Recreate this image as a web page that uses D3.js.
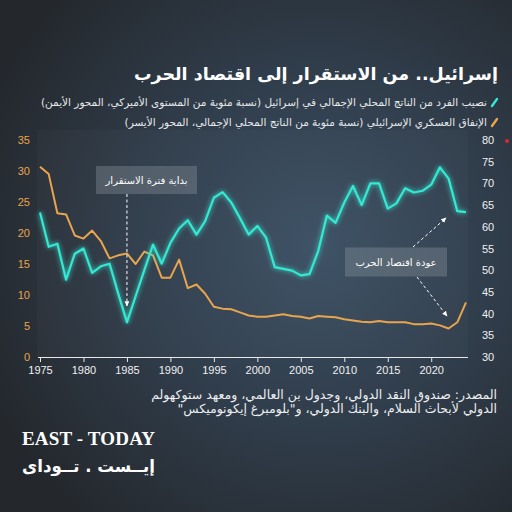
<!DOCTYPE html>
<html>
<head>
<meta charset="utf-8">
<script src="https://d3js.org/d3.v7.min.js"></script>
<style>
  html, body { margin: 0; padding: 0; background: #262b31; }
  svg { display: block; }
  .ar { font-family: "DejaVu Sans", "Noto Sans", sans-serif; }
  .tick text { font-family: "Liberation Sans", Arial, sans-serif; font-size: 11px; }
</style>
</head>
<body>
<svg id="chart" width="512" height="512"></svg>
<script>
// years on the x axis
const years = d3.range(1975, 2025);
// GDP per capita, % of US level (right axis)
const gdpShare = [63.3, 55.4, 56.1, 47.8, 53.8, 55.0, 49.4, 50.9, 51.5, 44.6,
                  38.0, 44.0, 50.0, 55.9, 51.5, 56.3, 59.6, 61.5, 58.2, 61.3,
                  66.7, 68.0, 65.6, 62.0, 58.2, 60.2, 57.5, 50.7, 50.3, 49.9,
                  48.8, 49.1, 54.4, 62.6, 60.9, 65.6, 69.4, 65.0, 70.0, 70.0,
                  64.2, 65.4, 68.9, 67.9, 68.3, 69.7, 73.7, 71.1, 63.6, 63.4];
// military spending, % of GDP (left axis)
const military = [30.7, 29.5, 23.2, 23.0, 19.6, 19.1, 20.4, 18.7, 15.9, 16.4,
                  16.7, 15.0, 17.0, 16.4, 12.8, 12.8, 15.7, 11.1, 11.7, 10.2,
                  8.1, 7.8, 7.7, 7.2, 6.7, 6.5, 6.5, 6.7, 6.9, 6.6,
                  6.5, 6.2, 6.6, 6.5, 6.4, 6.1, 5.9, 5.7, 5.6, 5.8,
                  5.6, 5.6, 5.6, 5.3, 5.3, 5.4, 5.1, 4.6, 5.6, 8.8];
const xTicks = [1975, 1980, 1985, 1990, 1995, 2000, 2005, 2010, 2015, 2020];
const leftTicks = [0, 5, 10, 15, 20, 25, 30, 35];
const rightTicks = [30, 35, 40, 45, 50, 55, 60, 65, 70, 75, 80];

const title = "إسرائيل.. من الاستقرار إلى اقتصاد الحرب";
const legendLabels = [
  "نصيب الفرد من الناتج المحلي الإجمالي في إسرائيل (نسبة مئوية من المستوى الأميركي، المحور الأيمن)",
  "الإنفاق العسكري الإسرائيلي (نسبة مئوية من الناتج المحلي الإجمالي، المحور الأيسر)"
];
const sourceLines = [
  "المصدر: صندوق النقد الدولي، وجدول بن العالمي، ومعهد ستوكهولم",
  "الدولي لأبحاث السلام، والبنك الدولي، و\"بلومبرغ إيكونوميكس\""
];

const teal = "#35e8d2", orange = "#e8a54e";

const svg = d3.select("#chart");
const defs = svg.append("defs");

// background
const bg = defs.append("radialGradient").attr("id", "bg")
  .attr("cx", "62%").attr("cy", "48%").attr("r", "70%");
bg.append("stop").attr("offset", "0%").attr("stop-color", "#3b4f64");
bg.append("stop").attr("offset", "55%").attr("stop-color", "#2f3b48");
bg.append("stop").attr("offset", "100%").attr("stop-color", "#24282d");
svg.append("rect").attr("width", 512).attr("height", 512).attr("fill", "url(#bg)");

const glow = defs.append("filter").attr("id", "glow")
  .attr("x", "-10%").attr("y", "-10%").attr("width", "120%").attr("height", "120%");
glow.append("feGaussianBlur").attr("in", "SourceGraphic").attr("stdDeviation", 2.4).attr("result", "b");
const fm = glow.append("feMerge");
fm.append("feMergeNode").attr("in", "b");
fm.append("feMergeNode").attr("in", "SourceGraphic");

defs.append("marker").attr("id", "head")
  .attr("viewBox", "0 0 10 10").attr("refX", 8).attr("refY", 5)
  .attr("markerWidth", 6).attr("markerHeight", 6).attr("orient", "auto")
  .append("path").attr("d", "M0,1 L9,5 L0,9 Z").attr("fill", "#fff");

const x = d3.scaleLinear().domain([1975, 2024]).range([40, 466]);
const yL = d3.scaleLinear().domain([0, 35]).range([357, 140]);
const yR = d3.scaleLinear().domain([30, 80]).range([357, 140]);

// plot panel
svg.append("rect").attr("x", 37).attr("y", 130).attr("width", 431).attr("height", 227)
  .attr("fill", "#ffffff").attr("opacity", 0.025);

// title
svg.append("text").attr("class", "ar")
  .attr("x", 498).attr("y", 80).attr("direction", "rtl").attr("text-anchor", "start")
  .attr("fill", "#fff").attr("font-size", 17.5).attr("font-weight", "bold")
  .text(title);

// legend
const lg = svg.append("g");
[teal, orange].forEach((c, i) => {
  const yy = 102 + i * 20;
  lg.append("line").attr("x1", 492).attr("y1", yy + 4).attr("x2", 497).attr("y2", yy - 3)
    .attr("stroke", c).attr("stroke-width", 2.4).attr("stroke-linecap", "round");
  lg.append("text").attr("class", "ar")
    .attr("x", 487).attr("y", yy + 4).attr("direction", "rtl").attr("text-anchor", "start")
    .attr("fill", "#e6e8ea").attr("font-size", 10.5)
    .text(legendLabels[i]);
});

// axes
const xAxis = svg.append("g").attr("transform", "translate(0,357)")
  .call(d3.axisBottom(x).tickValues(xTicks).tickFormat(d3.format("d")).tickSize(5).tickPadding(4));
xAxis.select(".domain").attr("d", "M38,0.5H468").attr("stroke", "#e8e8e8");
xAxis.selectAll(".tick line").attr("stroke", "#e8e8e8");
xAxis.selectAll(".tick text").attr("fill", "#f0f0f0");

const lAxis = svg.append("g").attr("transform", "translate(34,0)")
  .call(d3.axisLeft(yL).tickValues(leftTicks).tickSize(0).tickPadding(4));
lAxis.select(".domain").remove();
lAxis.selectAll(".tick text").attr("fill", orange);

const rAxis = svg.append("g").attr("transform", "translate(478,0)")
  .call(d3.axisRight(yR).tickValues(rightTicks).tickSize(0).tickPadding(4));
rAxis.select(".domain").remove();
rAxis.selectAll(".tick text").attr("fill", "#eef0f2");

// lines
const milLine = d3.line().x((d, i) => x(years[i])).y(d => yL(d));
const gdpLine = d3.line().x((d, i) => x(years[i])).y(d => yR(d));

svg.append("path").datum(military).attr("d", milLine)
  .attr("fill", "none").attr("stroke", orange).attr("stroke-width", 2)
  .attr("stroke-linejoin", "round");
svg.append("path").datum(gdpShare).attr("d", gdpLine)
  .attr("fill", "none").attr("stroke", teal).attr("stroke-width", 2.2)
  .attr("stroke-linejoin", "round").attr("filter", "url(#glow)");

// annotations
const note = (cx, cy, w, h, label) => {
  svg.append("rect").attr("x", cx - w / 2).attr("y", cy - h / 2).attr("width", w).attr("height", h)
    .attr("fill", "#8a939c").attr("opacity", 0.38);
  svg.append("text").attr("class", "ar")
    .attr("x", cx).attr("y", cy + 4).attr("text-anchor", "middle")
    .attr("fill", "#fff").attr("font-size", 10).text(label);
};
const arrow = (x1, y1, x2, y2) => {
  svg.append("line").attr("x1", x1).attr("y1", y1).attr("x2", x2).attr("y2", y2)
    .attr("stroke", "#fff").attr("stroke-width", 1).attr("stroke-dasharray", "3,2.5")
    .attr("marker-end", "url(#head)");
};

note(146.5, 180, 101, 28, "بداية فترة الاستقرار");
arrow(x(1985), 194, x(1985), 306);

note(396, 262, 102, 29, "عودة اقتصاد الحرب");
arrow(413, 247, 446, 218);
arrow(417, 277, 447, 316);

// tiny red dot at the edge
svg.append("circle").attr("cx", 507).attr("cy", 141).attr("r", 2).attr("fill", "#e02828");

// source
sourceLines.forEach((t, i) => {
  svg.append("text").attr("class", "ar")
    .attr("x", 497).attr("y", 399 + i * 14).attr("direction", "rtl").attr("text-anchor", "start")
    .attr("fill", "#eceef0").attr("font-size", 12.5).text(t);
});

// logo
svg.append("text").attr("x", 22).attr("y", 445)
  .attr("font-family", "'Liberation Serif', 'DejaVu Serif', serif")
  .attr("font-weight", "bold").attr("font-size", 19).attr("fill", "#fff")
  .attr("textLength", 133).text("EAST - TODAY");
svg.append("text").attr("class", "ar").attr("x", 155).attr("y", 472)
  .attr("direction", "rtl").attr("text-anchor", "start")
  .attr("font-weight", "bold").attr("font-size", 17).attr("fill", "#fff")
  .attr("textLength", 133).attr("lengthAdjust", "spacingAndGlyphs")
  .text("إيــست . تــوداى");
</script>
</body>
</html>
